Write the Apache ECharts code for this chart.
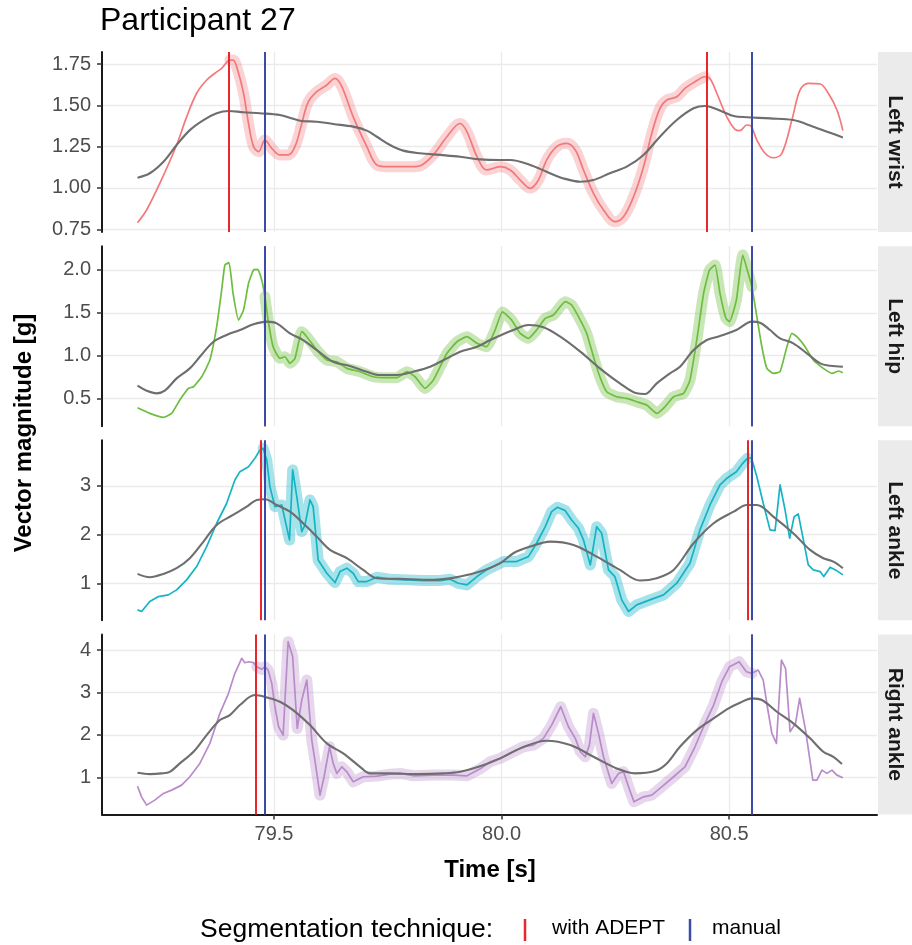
<!DOCTYPE html>
<html>
<head>
<meta charset="utf-8">
<script src="https://cdn.jsdelivr.net/npm/echarts@6/dist/echarts.min.js"></script>
<style>
html,body{margin:0;padding:0;background:#fff;}
#chart{width:912px;height:945px;}
</style>
</head>
<body>
<div id="chart"></div>
<script>
// ---------------- DATA ----------------
const chartTitle = 'Participant 27';
const panelNames = ['Left wrist', 'Left hip', 'Left ankle', 'Right ankle'];
const xTicks = [79.5, 80.0, 80.5];

const wristTicks = [0.75, 1.00, 1.25, 1.50, 1.75];
const hipTicks = [0.5, 1.0, 1.5, 2.0];
const lankleTicks = [1, 2, 3];
const rankleTicks = [1, 2, 3, 4];

// Left wrist raw signal
const wristTime = [79.200,79.220,79.249,79.286,79.308,79.330,79.352,79.370,79.385,79.403,79.410,79.420,79.433,79.444,79.455,79.466,79.480,79.495,79.513,79.531,79.546,79.561,79.575,79.594,79.616,79.634,79.649,79.674,79.704,79.726,79.748,79.777,79.806,79.825,79.850,79.880,79.909,79.924,79.946,79.967,79.997,80.019,80.041,80.063,80.081,80.099,80.121,80.143,80.162,80.180,80.202,80.224,80.249,80.268,80.290,80.312,80.330,80.348,80.363,80.385,80.403,80.425,80.447,80.458,80.473,80.495,80.513,80.524,80.539,80.548,80.561,80.579,80.597,80.616,80.638,80.656,80.674,80.700,80.718,80.737,80.750];
const wristValue = [0.790,0.867,1.028,1.260,1.430,1.573,1.653,1.694,1.724,1.774,1.774,1.714,1.573,1.390,1.250,1.220,1.290,1.240,1.200,1.200,1.250,1.390,1.520,1.583,1.623,1.663,1.613,1.430,1.250,1.139,1.129,1.129,1.129,1.139,1.200,1.310,1.390,1.340,1.190,1.109,1.129,1.109,1.048,0.998,1.048,1.169,1.250,1.270,1.230,1.109,0.968,0.867,0.796,0.826,0.947,1.129,1.330,1.482,1.532,1.552,1.603,1.643,1.673,1.663,1.573,1.430,1.355,1.347,1.381,1.375,1.290,1.210,1.183,1.210,1.411,1.593,1.633,1.629,1.573,1.472,1.347];
// Left wrist smoothed reference
const wristSmoothTime = [79.200,79.227,79.257,79.286,79.315,79.345,79.374,79.400,79.433,79.469,79.513,79.557,79.594,79.630,79.674,79.704,79.726,79.755,79.784,79.821,79.865,79.909,79.953,79.997,80.019,80.063,80.099,80.136,80.173,80.202,80.238,80.275,80.312,80.348,80.385,80.422,80.447,80.473,80.510,80.539,80.590,80.641,80.685,80.722,80.750];
const wristSmoothValue = [1.062,1.089,1.159,1.260,1.350,1.411,1.452,1.466,1.458,1.452,1.441,1.407,1.401,1.387,1.371,1.347,1.310,1.260,1.226,1.210,1.200,1.189,1.173,1.169,1.169,1.139,1.098,1.058,1.038,1.048,1.089,1.129,1.200,1.310,1.411,1.482,1.496,1.476,1.435,1.428,1.421,1.411,1.371,1.334,1.306];

// Left hip raw signal
const hipTime = [79.200,79.227,79.257,79.275,79.293,79.312,79.323,79.341,79.359,79.374,79.385,79.392,79.401,79.410,79.422,79.433,79.444,79.455,79.464,79.473,79.480,79.487,79.498,79.513,79.524,79.535,79.546,79.561,79.572,79.594,79.616,79.638,79.660,79.689,79.718,79.748,79.770,79.792,79.810,79.832,79.850,79.880,79.902,79.924,79.946,79.967,79.986,80.002,80.022,80.041,80.059,80.077,80.096,80.114,80.140,80.154,80.173,80.187,80.202,80.216,80.231,80.253,80.275,80.297,80.319,80.341,80.359,80.378,80.400,80.414,80.429,80.444,80.457,80.469,80.480,80.493,80.501,80.516,80.530,80.541,80.550,80.561,80.572,80.583,80.597,80.612,80.627,80.638,80.649,80.667,80.685,80.707,80.726,80.741,80.750];
const hipValue = [0.389,0.324,0.277,0.324,0.480,0.616,0.635,0.752,0.947,1.337,1.766,2.058,2.085,1.727,1.415,1.532,1.844,2.000,2.008,1.883,1.688,1.415,1.103,0.967,0.986,0.909,0.967,1.279,1.220,1.064,0.947,0.927,0.850,0.811,0.752,0.741,0.741,0.811,0.752,0.616,0.713,1.026,1.161,1.220,1.143,1.103,1.300,1.510,1.415,1.259,1.201,1.298,1.435,1.474,1.629,1.591,1.415,1.259,0.986,0.752,0.577,0.518,0.499,0.460,0.421,0.324,0.401,0.518,0.558,0.713,1.181,1.727,2.000,2.058,1.727,1.435,1.396,1.649,2.175,1.980,1.805,1.454,1.103,0.850,0.792,0.811,1.103,1.259,1.220,1.103,0.947,0.850,0.792,0.819,0.799];
// Left hip smoothed reference
const hipSmoothTime = [79.200,79.220,79.242,79.260,79.286,79.315,79.337,79.367,79.396,79.425,79.455,79.484,79.506,79.535,79.564,79.594,79.630,79.667,79.704,79.733,79.770,79.806,79.843,79.880,79.909,79.946,79.975,79.997,80.026,80.059,80.092,80.129,80.173,80.216,80.260,80.297,80.315,80.341,80.370,80.392,80.422,80.451,80.480,80.516,80.550,80.568,80.590,80.612,80.641,80.671,80.700,80.722,80.750];
const hipSmoothValue = [0.647,0.589,0.558,0.589,0.733,0.850,0.986,1.161,1.240,1.298,1.365,1.396,1.376,1.259,1.181,1.064,0.927,0.877,0.811,0.772,0.772,0.811,0.869,0.967,1.045,1.103,1.181,1.235,1.298,1.357,1.330,1.220,1.045,0.850,0.675,0.558,0.550,0.675,0.792,0.869,1.064,1.181,1.228,1.298,1.396,1.384,1.298,1.201,1.143,1.026,0.909,0.881,0.869];

// Left ankle raw signal
const lankleTime = [79.200,79.209,79.227,79.246,79.268,79.286,79.308,79.330,79.352,79.374,79.396,79.414,79.425,79.444,79.458,79.468,79.476,79.484,79.491,79.502,79.517,79.534,79.541,79.550,79.561,79.568,79.579,79.586,79.597,79.616,79.634,79.645,79.660,79.674,79.685,79.704,79.726,79.755,79.792,79.828,79.865,79.887,79.905,79.924,79.946,79.967,79.982,80.004,80.033,80.059,80.077,80.096,80.110,80.123,80.140,80.154,80.169,80.180,80.195,80.209,80.220,80.235,80.249,80.264,80.279,80.297,80.326,80.356,80.385,80.414,80.436,80.458,80.480,80.495,80.516,80.530,80.540,80.549,80.561,80.575,80.590,80.601,80.612,80.623,80.633,80.643,80.652,80.674,80.685,80.700,80.708,80.722,80.737,80.750];
const lankleValue = [0.454,0.420,0.624,0.727,0.762,0.864,1.070,1.343,1.754,2.234,2.645,3.123,3.294,3.397,3.568,3.725,3.774,3.534,2.986,2.575,2.610,1.891,3.329,2.780,2.062,2.199,2.713,2.575,1.480,1.207,1.015,1.240,1.310,1.207,1.035,1.035,1.125,1.084,1.070,1.056,1.056,1.084,1.001,0.967,1.138,1.275,1.343,1.446,1.446,1.548,1.823,2.164,2.472,2.563,2.493,2.302,2.130,1.891,1.378,2.164,2.028,1.275,1.138,0.659,0.420,0.556,0.659,0.762,1.001,1.413,2.097,2.610,3.021,3.158,3.294,3.466,3.568,3.580,3.191,2.645,2.097,2.082,3.021,2.507,1.926,2.370,2.425,1.378,1.275,1.240,1.138,1.330,1.255,1.172];
// Left ankle smoothed reference
const lankleSmoothTime = [79.200,79.227,79.257,79.286,79.315,79.345,79.374,79.410,79.440,79.462,79.480,79.506,79.535,79.564,79.594,79.623,79.660,79.696,79.726,79.777,79.850,79.909,79.953,79.997,80.026,80.063,80.107,80.158,80.209,80.260,80.304,80.341,80.378,80.422,80.466,80.510,80.539,80.561,80.597,80.641,80.678,80.707,80.729,80.750];
const lankleSmoothValue = [1.193,1.125,1.193,1.310,1.515,1.857,2.199,2.405,2.575,2.713,2.727,2.610,2.472,2.234,1.959,1.686,1.515,1.275,1.105,1.090,1.070,1.138,1.240,1.413,1.618,1.754,1.857,1.788,1.548,1.275,1.056,1.105,1.275,1.823,2.234,2.472,2.610,2.610,2.370,2.028,1.686,1.515,1.446,1.310];

// Right ankle raw signal
const rankleTime = [79.200,79.209,79.220,79.238,79.257,79.275,79.297,79.315,79.337,79.359,79.381,79.400,79.414,79.429,79.436,79.444,79.455,79.462,79.473,79.480,79.487,79.495,79.502,79.510,79.520,79.531,79.541,79.551,79.561,79.572,79.583,79.592,79.601,79.610,79.622,79.630,79.638,79.649,79.660,79.674,79.696,79.726,79.755,79.777,79.806,79.850,79.894,79.924,79.953,79.975,79.997,80.026,80.048,80.070,80.092,80.110,80.130,80.147,80.162,80.173,80.184,80.193,80.202,80.213,80.224,80.242,80.257,80.268,80.279,80.291,80.312,80.330,80.352,80.378,80.403,80.425,80.447,80.466,80.484,80.501,80.522,80.538,80.550,80.564,80.575,80.584,80.594,80.604,80.615,80.624,80.634,80.646,80.655,80.668,80.684,80.693,80.704,80.715,80.726,80.737,80.750];
const rankleValue = [0.792,0.540,0.344,0.462,0.620,0.698,0.816,1.013,1.328,1.800,2.507,2.979,3.450,3.804,3.701,3.724,3.701,3.607,3.544,3.607,3.528,3.214,2.663,2.191,1.995,4.196,3.842,2.153,2.821,3.292,1.877,1.248,0.580,1.013,1.720,1.328,1.092,1.248,1.130,0.894,1.013,1.028,1.075,1.092,1.036,1.052,1.052,1.036,1.200,1.367,1.446,1.603,1.720,1.759,1.918,2.231,2.663,2.191,1.918,1.603,1.484,1.759,2.507,2.035,1.484,0.856,1.092,1.130,0.776,0.422,0.540,0.580,0.776,1.013,1.248,1.720,2.271,2.703,3.253,3.607,3.724,3.489,3.450,3.528,3.292,2.663,2.035,1.800,3.764,3.568,2.074,2.271,2.861,2.113,0.934,0.934,1.170,1.092,1.170,1.052,0.988];
// Right ankle smoothed reference
const rankleSmoothTime = [79.200,79.227,79.253,79.271,79.293,79.323,79.352,79.381,79.403,79.425,79.458,79.484,79.513,79.542,79.579,79.616,79.652,79.689,79.711,79.755,79.814,79.872,79.909,79.953,79.997,80.041,80.099,80.151,80.202,80.253,80.293,80.337,80.363,80.392,80.429,80.466,80.499,80.524,80.550,80.572,80.605,80.641,80.678,80.707,80.729,80.748];
const rankleSmoothValue = [1.107,1.075,1.092,1.130,1.328,1.603,1.995,2.349,2.467,2.703,2.939,2.884,2.781,2.585,2.231,1.800,1.564,1.248,1.092,1.092,1.075,1.092,1.130,1.260,1.446,1.682,1.861,1.759,1.484,1.210,1.092,1.146,1.328,1.720,2.113,2.389,2.625,2.757,2.861,2.821,2.545,2.271,1.918,1.603,1.484,1.311];

// Segment boundaries [start, end] in seconds
const adeptBounds = [[79.402, 80.451], [79.480, 80.550], [79.472, 80.540], [79.460, 80.553]];
const manualBounds = [[79.482, 80.551], [79.482, 80.551], [79.482, 80.551], [79.480, 80.553]];

// ---------------- STYLE ----------------
const FONT = '"Liberation Sans", Arial, Helvetica, sans-serif';
const rawColors = ['#F4787A', '#6DBE3E', '#14B4C4', '#B98BCB'];
const bandColors = ['rgba(240,120,125,0.33)', 'rgba(110,190,62,0.38)', 'rgba(20,180,196,0.38)', 'rgba(185,139,203,0.35)'];
const rawSmooth = [0.35, 0.15, 0, 0];
const smoothColor = '#6E6E6E';
const adeptColor = '#E8262B';
const manualColor = '#3A4CA8';
const gridColor = '#EBEBEB';

const panelTops = [52, 246.2, 440.3, 634.4];
const panelH = 180;
const gridLeft = 102;
const gridRightPx = 877;
const X_MIN = 79.122, X_MAX = 80.825;
const yRanges = [[0.7337, 1.8226], [0.174, 2.278], [0.239, 3.939], [0.126, 4.368]];
const yTickSets = [wristTicks, hipTicks, lankleTicks, rankleTicks];
const yDecimals = [2, 1, 0, 0];

const rawT = [wristTime, hipTime, lankleTime, rankleTime];
const rawV = [wristValue, hipValue, lankleValue, rankleValue];
const smT = [wristSmoothTime, hipSmoothTime, lankleSmoothTime, rankleSmoothTime];
const smV = [wristSmoothValue, hipSmoothValue, lankleSmoothValue, rankleSmoothValue];

function pairs(t, v) { return t.map((x, i) => [x, v[i]]); }

const grids = [], xAxes = [], yAxes = [], series = [], graphics = [];

for (let i = 0; i < 4; i++) {
  const last = i === 3;
  grids.push({ left: gridLeft, width: gridRightPx - gridLeft, top: panelTops[i], height: panelH, outerBoundsMode: 'none', containLabel: false });
  xAxes.push({
    type: 'value', gridIndex: i, min: X_MIN, max: X_MAX,
    axisLine: { show: last, onZero: false, lineStyle: { color: '#1A1A1A', width: 2 } },
    axisTick: { show: last, customValues: xTicks, length: 5, lineStyle: { color: '#333', width: 1.5 } },
    axisLabel: { show: last, customValues: xTicks, formatter: v => v.toFixed(1), color: '#4D4D4D', fontSize: 20, fontFamily: FONT, margin: 10 },
    splitLine: { show: true, lineStyle: { color: gridColor, width: 1.3 } }
  });
  yAxes.push({
    type: 'value', gridIndex: i, min: yRanges[i][0], max: yRanges[i][1],
    axisLine: { show: true, onZero: false, lineStyle: { color: '#1A1A1A', width: 2 } },
    axisTick: { show: true, customValues: yTickSets[i], length: 5, lineStyle: { color: '#333', width: 1.5 } },
    axisLabel: { customValues: yTickSets[i], formatter: v => v.toFixed(yDecimals[i]), color: '#4D4D4D', fontSize: 20, fontFamily: FONT, margin: 11 },
    splitLine: { show: true, lineStyle: { color: gridColor, width: 1.3 } }
  });

  const raw = pairs(rawT[i], rawV[i]);
  const a = adeptBounds[i];
  const seg = raw.filter(p => p[0] >= a[0] - 0.0005 && p[0] <= a[1] + 0.0005);

  series.push({
    type: 'line', xAxisIndex: i, yAxisIndex: i, data: seg, showSymbol: false, symbol: 'none', z: 1, silent: true,
    smooth: rawSmooth[i],
    lineStyle: { color: bandColors[i], width: 11, cap: 'round', join: 'round' }
  });
  series.push({
    type: 'line', xAxisIndex: i, yAxisIndex: i, data: raw, showSymbol: false, symbol: 'none', z: 2, silent: true,
    smooth: rawSmooth[i],
    lineStyle: { color: rawColors[i], width: 1.7, join: 'round' }
  });
  series.push({
    type: 'line', xAxisIndex: i, yAxisIndex: i, data: pairs(smT[i], smV[i]), showSymbol: false, symbol: 'none', z: 3, silent: true,
    smooth: 0.35,
    lineStyle: { color: smoothColor, width: 2.1, join: 'round' }
  });
  const m = manualBounds[i];
  series.push({
    type: 'line', xAxisIndex: i, yAxisIndex: i, data: [], z: 5, silent: true,
    markLine: {
      silent: true, symbol: ['none', 'none'], label: { show: false }, animation: false,
      lineStyle: { type: 'solid', width: 2 },
      emphasis: { disabled: true },
      data: [
        { xAxis: a[0], lineStyle: { color: adeptColor, type: 'solid', width: 2 } },
        { xAxis: a[1], lineStyle: { color: adeptColor, type: 'solid', width: 2 } },
        { xAxis: m[0], lineStyle: { color: manualColor, type: 'solid', width: 2 } },
        { xAxis: m[1], lineStyle: { color: manualColor, type: 'solid', width: 2 } }
      ]
    }
  });

  // facet strip
  graphics.push({ type: 'rect', shape: { x: 878, y: panelTops[i], width: 34, height: panelH }, style: { fill: '#EBEBEB' }, silent: true });
  graphics.push({ type: 'text', x: 895, y: panelTops[i] + panelH / 2, rotation: -Math.PI / 2,
    style: { text: panelNames[i], font: 'bold 21px ' + FONT, fill: '#1A1A1A', align: 'center', verticalAlign: 'middle' }, silent: true });
}

// title, axis names, legend
graphics.push({ type: 'text', x: 100, y: 21, style: { text: chartTitle, font: '32px ' + FONT, fill: '#000', align: 'left', verticalAlign: 'middle' } });
graphics.push({ type: 'text', x: 24, y: 433, rotation: Math.PI / 2, style: { text: 'Vector magnitude [g]', font: 'bold 24px ' + FONT, fill: '#000', align: 'center', verticalAlign: 'middle' } });
graphics.push({ type: 'text', x: 490, y: 870, style: { text: 'Time [s]', font: 'bold 24px ' + FONT, fill: '#000', align: 'center', verticalAlign: 'middle' } });
graphics.push({ type: 'text', x: 200, y: 930, style: { text: 'Segmentation technique:', font: '26.5px ' + FONT, fill: '#000', align: 'left', verticalAlign: 'middle' } });
graphics.push({ type: 'line', shape: { x1: 525, y1: 919, x2: 525, y2: 941 }, style: { stroke: adeptColor, lineWidth: 2.5 } });
graphics.push({ type: 'text', x: 552, y: 928, style: { text: 'with ADEPT', font: '21px ' + FONT, fill: '#000', align: 'left', verticalAlign: 'middle' } });
graphics.push({ type: 'line', shape: { x1: 690, y1: 919, x2: 690, y2: 941 }, style: { stroke: manualColor, lineWidth: 2.5 } });
graphics.push({ type: 'text', x: 712, y: 928, style: { text: 'manual', font: '21px ' + FONT, fill: '#000', align: 'left', verticalAlign: 'middle' } });

const chart = echarts.init(document.getElementById('chart'), null, { renderer: 'canvas' });
chart.setOption({
  animation: false,
  backgroundColor: '#ffffff',
  grid: grids,
  xAxis: xAxes,
  yAxis: yAxes,
  series: series,
  graphic: graphics
});
</script>
</body>
</html>
